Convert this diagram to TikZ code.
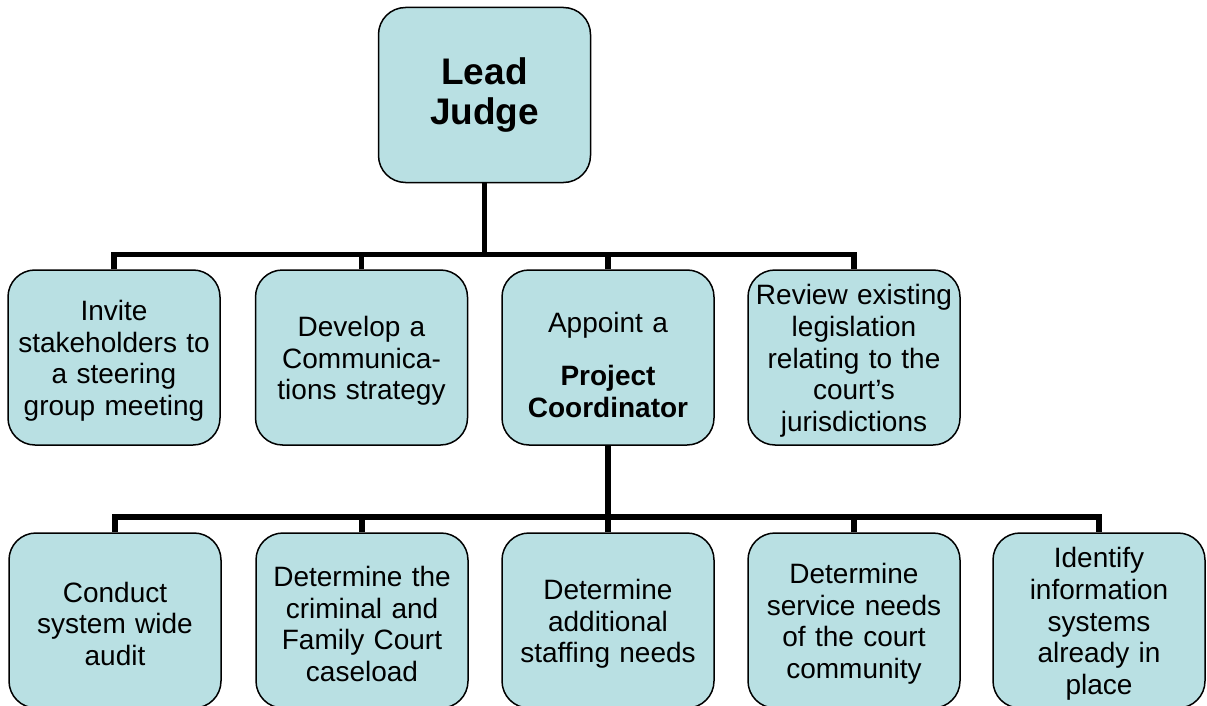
\documentclass[tikz,border=0pt]{standalone}
\usepackage{fontspec}
\setmainfont{Liberation Sans}
\usetikzlibrary{backgrounds}
\definecolor{boxfill}{RGB}{185,224,227}
\begin{document}
\begin{tikzpicture}[x=1pt,y=-1pt,
  box/.style={draw=black, line width=1.5pt, fill=boxfill, rounded corners=27pt,
    minimum width=212pt, minimum height=175pt, text width=206pt, align=center,
    inner sep=0pt, font=\fontsize{28}{31.7}\selectfont},
  task/.style={box, execute at begin node={\rule{0pt}{27pt}}},
  link/.style={line width=5.5pt, draw=black, line join=miter}]
  \path[use as bounding box, clip] (0,0) rectangle (1207,706);

  % top of the chart
  \node[box, font=\bfseries\fontsize{37}{40}\selectfont] (lead) at (484.5,95) {Lead\\Judge};

  % first row of tasks
  \node[task] (r1a) at (114,357.5) {Invite\\stakeholders to\\a steering\\group meeting};
  \node[task] (r1b) at (361.5,357.5) {Develop a\\Communica-\\tions strategy};
  \node[task] (r1c) at (608,357.5) {\rule{0pt}{35pt}Appoint a\\[22pt]\textbf{Project}\\\textbf{Coordinator}};
  \node[task] (r1d) at (854,357.5) {Review existing\\legislation\\relating to the\\court’s\\jurisdictions};

  % tasks under the project coordinator
  \node[task] (r2a) at (115,620.5) {Conduct\\system wide\\audit};
  \node[task] (r2b) at (362,620.5) {Determine the\\criminal and\\Family Court\\caseload};
  \node[task] (r2c) at (608,620.5) {Determine\\additional\\staffing needs};
  \node[task] (r2d) at (854,620.5) {Determine\\service needs\\of the court\\community};
  \node[task] (r2e) at (1099,620.5) {Identify\\information\\systems\\already in\\place};

  % junction points of the two buses
  \coordinate (bus1) at (484.5,254.5);
  \coordinate (bus2) at (608,517);

  \begin{scope}[on background layer]
    \draw[link] (lead.south) -- (bus1);
    \draw[link] (r1a.north) |- (bus1) -| (r1d.north);
    \draw[link] (r1b.north) -- (r1b.north |- bus1);
    \draw[link] (r1c.north) -- (r1c.north |- bus1);

    \draw[link] (r1c.south) -- (bus2);
    \draw[link] (r2a.north) |- (bus2) -| (r2e.north);
    \draw[link] (r2b.north) -- (r2b.north |- bus2);
    \draw[link] (r2c.north) -- (r2c.north |- bus2);
    \draw[link] (r2d.north) -- (r2d.north |- bus2);
  \end{scope}
\end{tikzpicture}
\end{document}
